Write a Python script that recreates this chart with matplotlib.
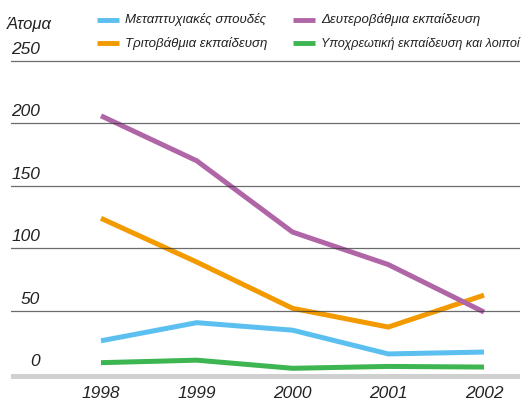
import matplotlib
matplotlib.use("Agg")
import matplotlib.pyplot as plt
from matplotlib.lines import Line2D
import matplotlib.transforms as mtransforms

years = [1998, 1999, 2000, 2001, 2002]
series_names = ["Μεταπτυχιακές σπουδές", "Τριτοβάθμια εκπαίδευση",
                "Δευτεροβάθμια εκπαίδευση", "Υποχρεωτική εκπαίδευση και λοιποί"]
postgrad = [26, 40.5, 34.5, 15.5, 17]
tertiary = [124, 89, 52, 37, 62.5]
secondary = [206, 170, 113, 87, 49]
compulsory = [8.5, 10.5, 4, 5.5, 5]
yticks = [0, 50, 100, 150, 200, 250]
ylabel = "Άτομα"

colors = ["#5bbfef", "#f29a00", "#b065a6", "#3db550"]

plt.rcParams['font.family'] = ['Liberation Sans', 'DejaVu Sans']

W, H = 526, 401
fig = plt.figure(figsize=(W / 100, H / 100), dpi=100)
ax_left, ax_right = 11, 520
ax_top, ax_bottom = 40, 380
ax = fig.add_axes([ax_left / W, 1 - ax_bottom / H, (ax_right - ax_left) / W, (ax_bottom - ax_top) / H])

ppu = 62.5 / 50.0
zero_px = 373.3
ax.set_ylim((zero_px - ax_bottom) / ppu, (zero_px - ax_top) / ppu)
year_px = 95.75
ax.set_xlim(1998 - (101 - ax_left) / year_px, 2002 + (ax_right - 484) / year_px)

for s, c in zip([postgrad, tertiary, secondary, compulsory], colors):
    ax.plot(years, s, color=c, lw=3.6, solid_capstyle='butt', solid_joinstyle='miter', zorder=2)

for v in yticks[1:]:
    ax.axhline(v, color="#3a3a3a", lw=0.9, alpha=0.75, zorder=3)
ax.axhline(-2, color="#d0d0d0", lw=3.6, zorder=1)

trans = mtransforms.blended_transform_factory(ax.transAxes, ax.transData)
for v in yticks:
    ax.annotate(str(v), xy=((40 - ax_left) / (ax_right - ax_left), v), xycoords=trans,
                xytext=(0, 3), textcoords='offset points', ha='right', va='bottom',
                fontsize=12.5, style='italic', color="#222222")

ax.set_xticks(years)
ax.set_xticklabels([str(y) for y in years], fontsize=12.5, style='italic', color="#222222")
ax.tick_params(axis='x', length=0, pad=4.5)
ax.set_yticks([])
for sp in ax.spines.values():
    sp.set_visible(False)

fig.text(7 / W, 1 - 24 / H, ylabel, fontsize=12, style='italic', color="#222222", va='center', ha='left')

legend_pos = [(97, 20), (97, 43), (293, 20), (293, 43)]
legend_sizes = [9.5, 9.5, 9.5, 9.1]
for (x, y), name, c, fs in zip(legend_pos, series_names, colors, legend_sizes):
    fig.add_artist(Line2D([x / W, (x + 22) / W], [1 - y / H, 1 - y / H], color=c, lw=3.5,
                          solid_capstyle='butt', transform=fig.transFigure))
    fig.text((x + 28) / W, 1 - y / H, name, fontsize=fs, style='italic', color="#222222",
             va='center', ha='left')

fig.savefig("out.png", dpi=100)
